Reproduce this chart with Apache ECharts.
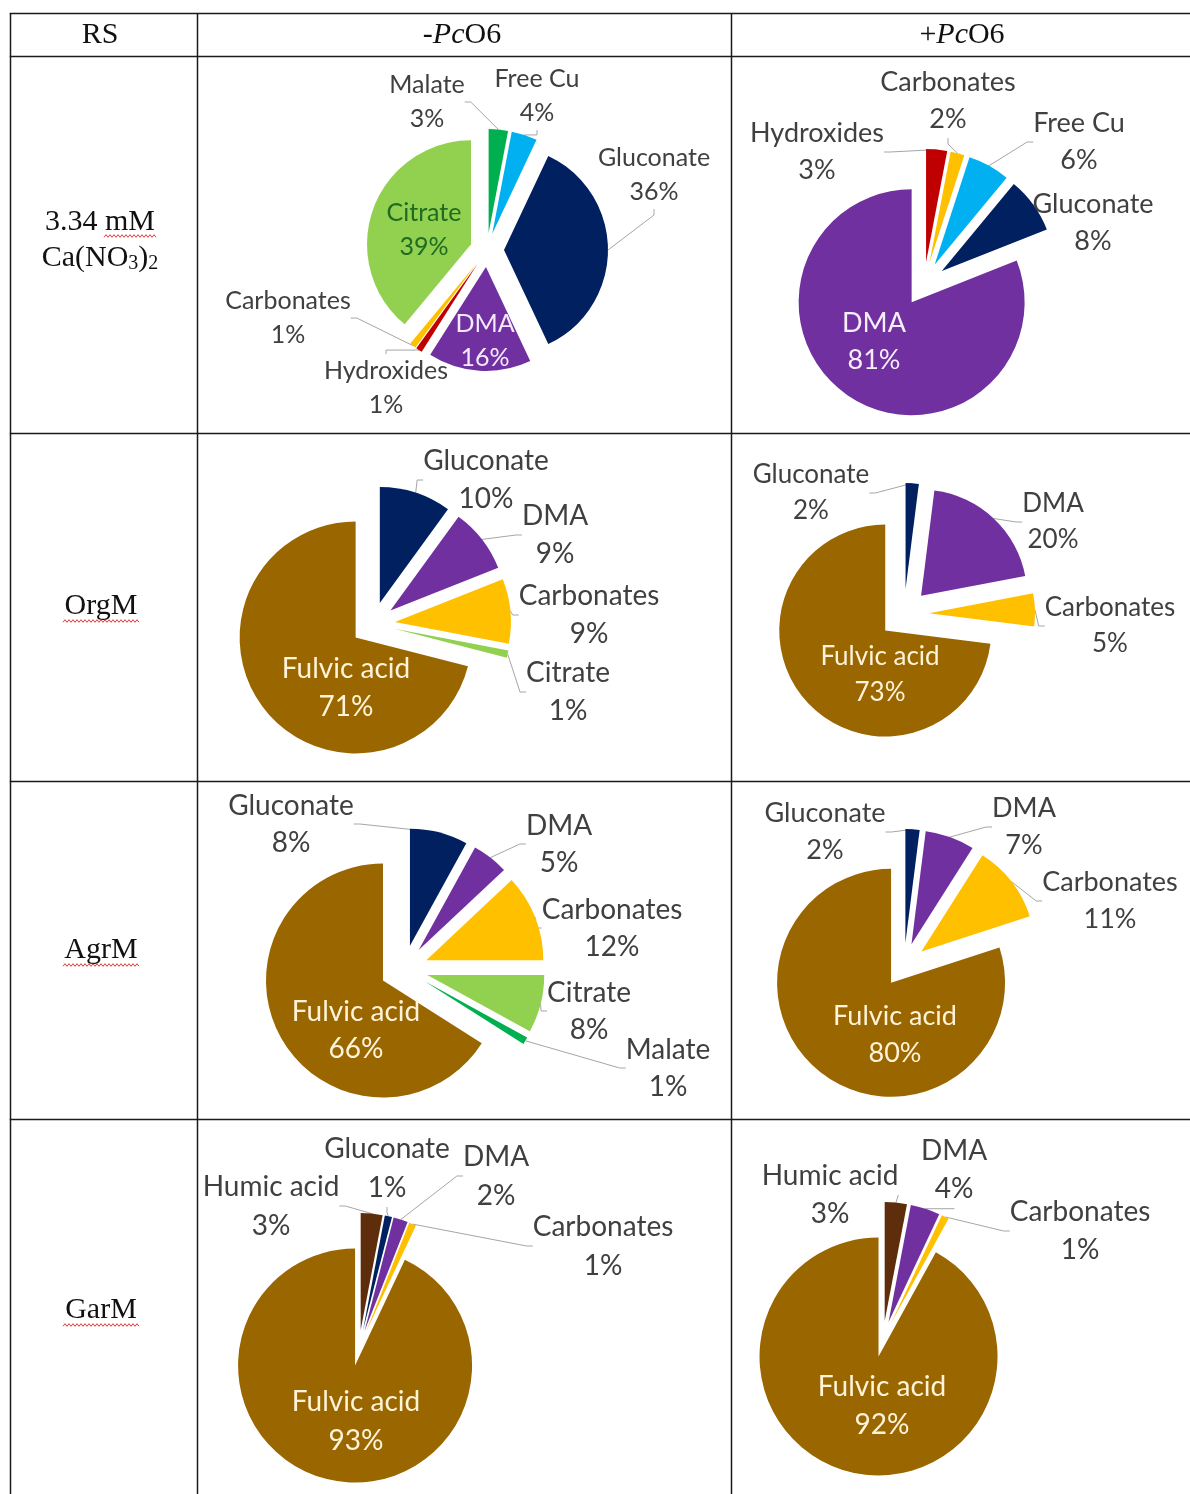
<!DOCTYPE html>
<html><head><meta charset="utf-8">
<script src="https://cdn.jsdelivr.net/npm/echarts@6/dist/echarts.min.js"></script>
<style>html,body{margin:0;padding:0;background:#fff}#c{width:1190px;height:1494px}</style>
</head><body><div id="c"></div>
<script>
// ---------- DATA ----------
const colHeaders = ['RS', '-PcO6', '+PcO6'];
const rowHeaders = ['3.34 mM Ca(NO3)2', 'OrgM', 'AgrM', 'GarM'];

const caMinusNames  = ['Malate', 'Free Cu', 'Gluconate', 'DMA', 'Hydroxides', 'Carbonates', 'Citrate'];
const caMinusValues = [3, 4, 36, 16, 1, 1, 39];
const caPlusNames   = ['Hydroxides', 'Carbonates', 'Free Cu', 'Gluconate', 'DMA'];
const caPlusValues  = [3, 2, 6, 8, 81];
const orgMinusNames  = ['Gluconate', 'DMA', 'Carbonates', 'Citrate', 'Fulvic acid'];
const orgMinusValues = [10, 9, 9, 1, 71];
const orgPlusNames   = ['Gluconate', 'DMA', 'Carbonates', 'Fulvic acid'];
const orgPlusValues  = [2, 20, 5, 73];
const agrMinusNames  = ['Gluconate', 'DMA', 'Carbonates', 'Citrate', 'Malate', 'Fulvic acid'];
const agrMinusValues = [8, 5, 12, 8, 1, 66];
const agrPlusNames   = ['Gluconate', 'DMA', 'Carbonates', 'Fulvic acid'];
const agrPlusValues  = [2, 7, 11, 80];
const garMinusNames  = ['Humic acid', 'Gluconate', 'DMA', 'Carbonates', 'Fulvic acid'];
const garMinusValues = [3, 1, 2, 1, 93];
const garPlusNames   = ['Humic acid', 'DMA', 'Carbonates', 'Fulvic acid'];
const garPlusValues  = [3, 4, 1, 92];

// ---------- STYLE / LAYOUT ----------
const colorMap = {
  'Malate': '#00b050', 'Free Cu': '#00b0f0', 'Gluconate': '#002060', 'DMA': '#7030a0',
  'Hydroxides': '#c00000', 'Carbonates': '#ffc000', 'Citrate': '#92d050',
  'Fulvic acid': '#996600', 'Humic acid': '#5e2e0c'
};
const FULVIC_TXT = '#fff4d8';
const pies = [
  { names: caMinusNames, values: caMinusValues, center: [487, 250], r: 104, off: 17, fs: 25, lh: 34,
    inside: { 'DMA': '#f4eafc', 'Citrate': '#1f6b21' },
    labels: [[427, 102], [537, 96], [654, 175], [485, 341], [386, 388], [288, 318], [424, 230]] },
  { names: caPlusNames, values: caPlusValues, center: [924, 284], r: 113, off: 22, fs: 27, lh: 37,
    inside: { 'DMA': '#f6eefb' },
    labels: [[817, 152], [948, 101], [1079, 142], [1093, 223], [874, 342]] },
  { names: orgMinusNames, values: orgMinusValues, center: [373, 624], r: 116, off: 22, fs: 28, lh: 38,
    inside: { 'Fulvic acid': FULVIC_TXT },
    labels: [[486, 480], [555, 535], [589, 615], [568, 692], [346, 688]] },
  { names: orgPlusNames, values: orgPlusValues, center: [904, 614], r: 106, off: 25, fs: 26, lh: 36,
    inside: { 'Fulvic acid': FULVIC_TXT },
    labels: [[811, 493], [1053, 522], [1110, 626], [880, 675]] },
  { names: agrMinusNames, values: agrMinusValues, center: [404, 969], r: 117, off: 24, fs: 28, lh: 37,
    inside: { 'Fulvic acid': FULVIC_TXT },
    labels: [[291, 824], [559, 844], [612, 928], [589, 1011], [668, 1068], [356, 1030]] },
  { names: agrPlusNames, values: agrPlusValues, center: [904, 965], r: 114, off: 22, fs: 27, lh: 37,
    inside: { 'Fulvic acid': FULVIC_TXT },
    labels: [[825, 832], [1024, 827], [1110, 901], [895, 1035]] },
  { names: garMinusNames, values: garMinusValues, center: [359, 1348], r: 117, off: 18, fs: 28, lh: 39,
    inside: { 'Fulvic acid': FULVIC_TXT },
    labels: [[271, 1206], [387, 1168], [496, 1176], [603, 1246], [356, 1421]] },
  { names: garPlusNames, values: garPlusValues, center: [883, 1339], r: 119, off: 18, fs: 28, lh: 38,
    inside: { 'Fulvic acid': FULVIC_TXT },
    labels: [[830, 1195], [954, 1170], [1080, 1231], [882, 1406]] }
];

// Each slice is drawn as its own pie series (slice + invisible remainder),
// shifted outward along its bisector to reproduce the exploded look.
const series = [];
pies.forEach(function (p) {
  const total = p.values.reduce(function (a, b) { return a + b; }, 0);
  let cum = 0;
  p.names.forEach(function (n, i) {
    const v = p.values[i];
    const startFrac = cum / total;
    const midFrac = (cum + v / 2) / total;
    cum += v;
    const a = midFrac * 2 * Math.PI;
    const cx = p.center[0] + p.off * Math.sin(a);
    const cy = p.center[1] - p.off * Math.cos(a);
    const pos = p.labels[i];
    const isInside = !!p.inside[n];
    series.push({
      type: 'pie', center: [cx, cy], radius: p.r,
      startAngle: 90 - startFrac * 360, clockwise: true,
      avoidLabelOverlap: false, animation: false, silent: true,
      emphasis: { disabled: true },
      itemStyle: { borderWidth: 0 },
      label: {
        show: true, position: isInside ? 'inside' : 'outside',
        formatter: function (prm) { return prm.name + '\n' + prm.value + '%'; },
        fontFamily: 'Lato', fontSize: p.fs, lineHeight: p.lh,
        color: isInside ? p.inside[n] : '#404040', align: 'center'
      },
      labelLine: { show: !isInside, length: 6, length2: 6, smooth: false,
                   lineStyle: { color: '#a6a6a6', width: 1 } },
      labelLayout: function (params) {
        if (params.dataIndex !== 0) return {};
        return { x: pos[0], y: pos[1], align: 'center', verticalAlign: 'middle' };
      },
      data: [
        { name: n, value: v, itemStyle: { color: colorMap[n] } },
        { name: '', value: total - v, itemStyle: { color: 'rgba(0,0,0,0)' },
          label: { show: false }, labelLine: { show: false } }
      ]
    });
  });
});

// ---------- TABLE GRAPHICS ----------
const LINE = { stroke: '#1a1a1a', lineWidth: 1.5 };
const elements = [];
[13.5, 56.5, 433.5, 781.5, 1119.5].forEach(function (y) {
  elements.push({ type: 'line', shape: { x1: 9.75, y1: y, x2: 1190, y2: y }, style: LINE });
});
[10.5, 197.5, 731.5].forEach(function (x) {
  elements.push({ type: 'line', shape: { x1: x, y1: 13, x2: x, y2: 1494 }, style: LINE });
});
const SERIF = 'Liberation Serif';
const TFS = 30;
function txt(x, y, text, rich) {
  const s = { text: text, fontFamily: SERIF, fontSize: TFS, fill: '#111', align: 'center', verticalAlign: 'middle' };
  if (rich) s.rich = rich;
  elements.push({ type: 'text', x: x, y: y, style: s });
}
const italicRich = {
  n: { fontFamily: SERIF, fontSize: TFS, fill: '#111' },
  i: { fontFamily: SERIF, fontSize: TFS, fontStyle: 'italic', fill: '#111' }
};
txt(100, 35, colHeaders[0]);
txt(462, 35, '{n|-}{i|Pc}{n|O6}', italicRich);
txt(962, 35, '{n|+}{i|Pc}{n|O6}', italicRich);
txt(100, 222, '3.34 mM');
txt(100, 258, '{n|Ca(NO}{s|3}{n|)}{s|2}', {
  n: { fontFamily: SERIF, fontSize: TFS, fill: '#111', lineHeight: 32, verticalAlign: 'middle' },
  s: { fontFamily: SERIF, fontSize: 20, fill: '#111', lineHeight: 17, verticalAlign: 'bottom' }
});
txt(101, 606, rowHeaders[1]);
txt(101, 950, rowHeaders[2]);
txt(101, 1310, rowHeaders[3]);

// spell-check style wavy underlines
function wave(x1, x2, y) {
  const pts = []; let k = 0;
  for (let x = x1; x <= x2; x += 2, k++) pts.push([x, y + (k % 2 ? -1.3 : 1.3)]);
  return { type: 'polyline', shape: { points: pts }, style: { stroke: '#e23b3b', lineWidth: 1, fill: null } };
}
elements.push(wave(104, 156, 236));
elements.push(wave(63, 140, 621));
elements.push(wave(63, 139, 965));
elements.push(wave(63, 140, 1325));

const chart = echarts.init(document.getElementById('c'), null, { renderer: 'canvas' });
chart.setOption({
  animation: false,
  backgroundColor: '#ffffff',
  graphic: { elements: elements },
  series: series
});
</script>
</body></html>
